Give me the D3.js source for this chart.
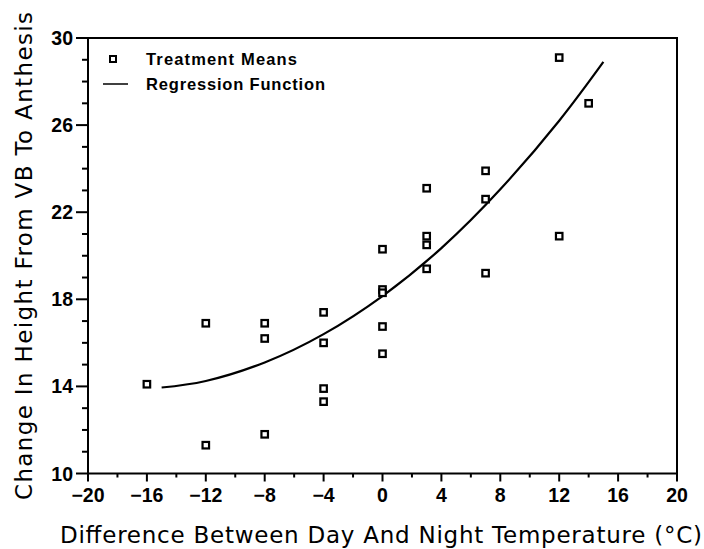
<!DOCTYPE html>
<html>
<head>
<meta charset="utf-8">
<script src="https://cdn.jsdelivr.net/npm/d3@7"></script>
<style>
  body { margin: 0; background: #fff; }
  .tickLabel { font-family: "Liberation Sans", Arial, sans-serif; font-weight: bold; font-size: 19.5px; }
  .axisTitle { font-family: "DejaVu Sans", sans-serif; font-size: 23px; }
  .legendText { font-family: "Liberation Sans", Arial, sans-serif; font-weight: bold; font-size: 16.5px; }
</style>
</head>
<body>
<div id="chart"></div>
<script>
//svg dimensions
let svgWidth = 704;
let svgHeight = 549;

//margin around the plot frame
let margin = { top: 38, right: 27, bottom: 75.5, left: 88 };

let chartWidth = svgWidth - margin.left - margin.right;
let chartHeight = svgHeight - margin.top - margin.bottom;

/********************************************/
//data
//treatment means: temperature difference (x) and height change (y)
let meanDif = [-16, -12, -12, -8, -8, -8, -4, -4, -4, -4,
  0, 0, 0, 0, 0, 3, 3, 3, 3, 7, 7, 7, 12, 12, 14];
let meanHeight = [14.1, 16.9, 11.3, 16.9, 16.2, 11.8, 17.4, 16.0, 13.9, 13.3,
  20.3, 18.45, 18.3, 16.75, 15.5, 23.1, 20.9, 20.5, 19.4, 23.9, 22.6, 19.2, 29.1, 20.9, 27.0];

//regression function
let regDif = [-15, -12, -8, -4, 0, 4, 8, 12, 15];
let regHeight = [13.95, 14.25, 15.1, 16.4, 18.15, 20.35, 23.05, 26.2, 28.9];

//axis ticks
let xTicks = [-20, -16, -12, -8, -4, 0, 4, 8, 12, 16, 20];
let xMinor = d3.range(-20, 21, 2);
let yTicks = [10, 14, 18, 22, 26, 30];
let yMinor = d3.range(10, 31, 1);

let legendLabels = ["Treatment Means", "Regression Function"];

/********************************************/
let svg = d3
  .select("#chart")
  .append("svg")
  .attr("width", svgWidth)
  .attr("height", svgHeight);

let chartGroup = svg
  .append("g")
  .attr("transform", `translate(${margin.left}, ${margin.top})`);

let xScale = d3.scaleLinear().domain([-20, 20]).range([0, chartWidth]);
let yScale = d3.scaleLinear().domain([10, 30]).range([chartHeight, 0]);

let minusFmt = (d) => (d < 0 ? "\u2212" + Math.abs(d) : "" + d);

/********************************************/
//tick marks (minor + major), drawn outward from the frame
let tickGroup = chartGroup.append("g").attr("stroke", "#000").attr("stroke-width", 2);

tickGroup
  .selectAll(".xtick")
  .data(xMinor)
  .enter()
  .append("line")
  .attr("x1", (d) => xScale(d))
  .attr("x2", (d) => xScale(d))
  .attr("y1", chartHeight)
  .attr("y2", (d) => chartHeight + (d % 4 === 0 ? 8 : 4));

tickGroup
  .selectAll(".ytick")
  .data(yMinor)
  .enter()
  .append("line")
  .attr("y1", (d) => yScale(d))
  .attr("y2", (d) => yScale(d))
  .attr("x1", 0)
  .attr("x2", (d) => ((d - 10) % 4 === 0 ? -12 : -6));

//tick labels
chartGroup
  .selectAll(".xlab")
  .data(xTicks)
  .enter()
  .append("text")
  .attr("class", "tickLabel")
  .attr("x", (d) => xScale(d))
  .attr("y", chartHeight + 28.5)
  .attr("text-anchor", "middle")
  .text(minusFmt);

chartGroup
  .selectAll(".ylab")
  .data(yTicks)
  .enter()
  .append("text")
  .attr("class", "tickLabel")
  .attr("x", -15)
  .attr("y", (d) => yScale(d))
  .attr("dy", "0.36em")
  .attr("text-anchor", "end")
  .text((d) => d);

//plot frame
chartGroup
  .append("rect")
  .attr("x", 0)
  .attr("y", 0)
  .attr("width", chartWidth)
  .attr("height", chartHeight)
  .attr("fill", "none")
  .attr("stroke", "#000")
  .attr("stroke-width", 2);

/********************************************/
//regression curve
let line = d3
  .line()
  .x((d, i) => xScale(regDif[i]))
  .y((d) => yScale(d))
  .curve(d3.curveNatural);

chartGroup
  .append("path")
  .datum(regHeight)
  .attr("d", line)
  .attr("fill", "none")
  .attr("stroke", "#000")
  .attr("stroke-width", 2.2);

//treatment means as open squares
chartGroup
  .selectAll(".mean")
  .data(meanHeight)
  .enter()
  .append("rect")
  .attr("class", "mean")
  .attr("x", (d, i) => xScale(meanDif[i]) - 3.25)
  .attr("y", (d) => yScale(d) - 3.25)
  .attr("width", 6.5)
  .attr("height", 6.5)
  .attr("fill", "#fff")
  .attr("stroke", "#000")
  .attr("stroke-width", 2.2);

/********************************************/
//legend
let legend = chartGroup.append("g").attr("transform", "translate(25, 21)");

legend
  .append("rect")
  .attr("x", -3)
  .attr("y", -3)
  .attr("width", 6)
  .attr("height", 6)
  .attr("fill", "#fff")
  .attr("stroke", "#000")
  .attr("stroke-width", 2);

legend
  .append("line")
  .attr("x1", -10)
  .attr("x2", 15)
  .attr("y1", 25)
  .attr("y2", 25)
  .attr("stroke", "#000")
  .attr("stroke-width", 1.5);

legend
  .selectAll(".legendText")
  .data(legendLabels)
  .enter()
  .append("text")
  .attr("class", "legendText")
  .attr("x", 33)
  .attr("y", (d, i) => 6 + i * 25)
  .attr("textLength", (d, i) => (i === 0 ? 151 : 179))
  .text((d) => d);

/********************************************/
//axis titles
svg
  .append("text")
  .attr("class", "axisTitle")
  .attr("x", 60)
  .attr("y", 543)
  .attr("textLength", 642)
  .text("Difference Between Day And Night Temperature (\u00b0C)");

svg
  .append("text")
  .attr("class", "axisTitle")
  .attr("transform", "translate(32, 500) rotate(-90)")
  .attr("font-size", "25px")
  .attr("textLength", 488)
  .text("Change In Height From VB To Anthesis");
</script>
</body>
</html>
